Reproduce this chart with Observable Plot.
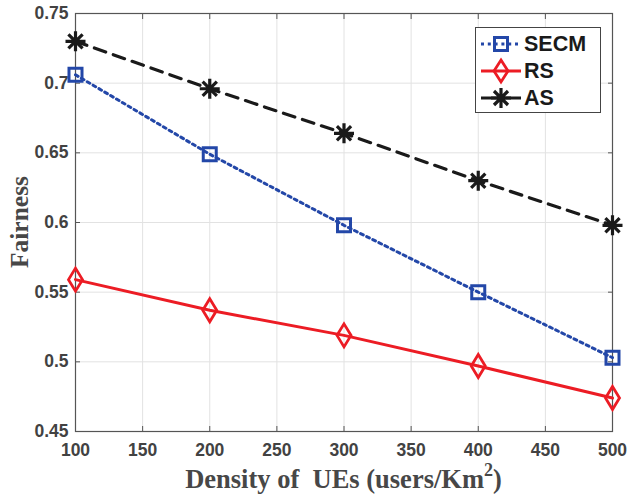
<!DOCTYPE html>
<html><head><meta charset="utf-8">
<script src="https://cdn.jsdelivr.net/npm/d3@7"></script>
<script src="https://cdn.jsdelivr.net/npm/@observablehq/plot@0.6"></script>
<style>
body{margin:0;background:#fff}
#wrap{position:relative;width:627px;height:497px;font-family:"Liberation Sans",Arial,sans-serif}
#xlabel{position:absolute;left:0;width:627px;top:466px;line-height:26px;text-align:center;padding-left:60px;box-sizing:border-box;font-family:"Liberation Serif","Times New Roman",serif;font-weight:bold;font-size:26.5px;color:#474747;white-space:pre}
#xlabel sup{font-size:18px;line-height:0;position:relative;top:-2px}
#ylabel{position:absolute;left:19px;top:222px;line-height:25px;transform:translate(-50%,-50%) rotate(-90deg);font-family:"Liberation Serif","Times New Roman",serif;font-weight:bold;font-size:25.5px;color:#474747;white-space:nowrap}
#legend{position:absolute;left:475px;top:27px;width:126px;height:86px;border:1px solid #444;background:#fff;box-sizing:border-box}
.row{position:absolute;left:0;height:28px;display:flex;align-items:center}
.row svg{margin-left:5px}
.row span{font-weight:bold;font-size:21.5px;color:#1a1a1a;margin-left:3px}
</style>
</head><body><div id="wrap"></div>
<script>
const density = [100, 200, 300, 400, 500];
const secm = [0.706, 0.649, 0.598, 0.550, 0.503];
const rs = [0.559, 0.537, 0.519, 0.497, 0.474];
const as = [0.730, 0.696, 0.664, 0.630, 0.598];
const xTicks = [100, 150, 200, 250, 300, 350, 400, 450, 500];
const yTicks = [0.45, 0.5, 0.55, 0.6, 0.65, 0.7, 0.75];
const yTickLabels = ["0.45", "0.5", "0.55", "0.6", "0.65", "0.7", "0.75"];
const seriesNames = ["SECM", "RS", "AS"];

const BLUE = "#2347a8", RED = "#ec1c24", BLACK = "#1a1a1a";

const sq = {draw(c) { const h = 6.5; c.moveTo(-h, -h); c.lineTo(h, -h); c.lineTo(h, h); c.lineTo(-h, h); c.closePath(); }};
const dia = {draw(c) { const w = 7, h = 11.5; c.moveTo(0, -h); c.lineTo(w, 0); c.lineTo(0, h); c.lineTo(-w, 0); c.closePath(); }};
const ast = {draw(c) { const r = 10, d = 7.1; c.moveTo(-r, 0); c.lineTo(r, 0); c.moveTo(0, -r); c.lineTo(0, r); c.moveTo(-d, -d); c.lineTo(d, d); c.moveTo(-d, d); c.lineTo(d, -d); }};

const toRows = (vals) => density.map((x, i) => ({x, y: vals[i]}));
const dSecm = toRows(secm), dRs = toRows(rs), dAs = toRows(as);

const tickFont = {fontSize: 17.5, fontWeight: "bold", fill: "#424242"};

const chart = Plot.plot({
  width: 627, height: 497,
  marginLeft: 75, marginRight: 15, marginTop: 13, marginBottom: 66,
  style: {fontFamily: "'Liberation Sans', Arial, sans-serif", background: "#fff", overflow: "visible"},
  x: {domain: [100, 500]},
  y: {domain: [0.45, 0.75]},
  marks: [
    Plot.gridX(xTicks, {stroke: "#e2e2e2", strokeOpacity: 1}),
    Plot.gridY(yTicks, {stroke: "#e2e2e2", strokeOpacity: 1}),
    Plot.frame({stroke: "#555", strokeWidth: 1.2}),
    Plot.axisX(xTicks, {anchor: "bottom", tickSize: -5, tickPadding: 17, stroke: "#555", label: null, ...tickFont}),
    Plot.axisX(xTicks, {anchor: "top", tickSize: -5, stroke: "#555", tickFormat: () => "", label: null}),
    Plot.axisY(yTicks, {anchor: "left", tickSize: -5, tickPadding: 12, stroke: "#555", label: null, tickFormat: (d) => yTickLabels[yTicks.indexOf(d)], ...tickFont}),
    Plot.axisY(yTicks, {anchor: "right", tickSize: -5, stroke: "#555", tickFormat: () => "", label: null}),
    Plot.line(dAs, {x: "x", y: "y", stroke: BLACK, strokeWidth: 3.2, strokeDasharray: "12,8"}),
    Plot.line(dSecm, {x: "x", y: "y", stroke: BLUE, strokeWidth: 3, strokeDasharray: "3,3.8"}),
    Plot.line(dRs, {x: "x", y: "y", stroke: RED, strokeWidth: 3}),
    Plot.dot(dAs, {x: "x", y: "y", symbol: ast, r: 10, stroke: BLACK, strokeWidth: 3.2, fill: "none"}),
    Plot.dot(dSecm, {x: "x", y: "y", symbol: sq, r: 7, stroke: BLUE, strokeWidth: 3, fill: "none"}),
    Plot.dot(dRs, {x: "x", y: "y", symbol: dia, r: 8, stroke: RED, strokeWidth: 2.8, fill: "none"})
  ]
});
const wrap = document.getElementById("wrap");
wrap.appendChild(chart);

const xl = document.createElement("div");
xl.id = "xlabel";
xl.innerHTML = "Density of  UEs (users/Km<sup>2</sup>)";
wrap.appendChild(xl);
const yl = document.createElement("div");
yl.id = "ylabel";
yl.textContent = "Fairness";
wrap.appendChild(yl);

// legend
const leg = document.createElement("div");
leg.id = "legend";
const samples = [
  `<line x1="0" y1="14" x2="40" y2="14" stroke="${BLUE}" stroke-width="3" stroke-dasharray="3,3.8"/><rect x="13.5" y="7.5" width="13" height="13" fill="none" stroke="${BLUE}" stroke-width="3"/>`,
  `<line x1="0" y1="14" x2="40" y2="14" stroke="${RED}" stroke-width="3"/><path d="M20,3L27,14L20,25L13,14Z" fill="none" stroke="${RED}" stroke-width="2.8"/>`,
  `<line x1="0" y1="14" x2="40" y2="14" stroke="${BLACK}" stroke-width="3.2"/><path d="M10,14H30M20,4V24M13,7L27,21M13,21L27,7" fill="none" stroke="${BLACK}" stroke-width="3.2"/>`
];
seriesNames.forEach((n, i) => {
  const r = document.createElement("div");
  r.className = "row";
  r.style.top = (2 + i * 27) + "px";
  r.innerHTML = `<svg width="40" height="28">${samples[i]}</svg><span>${n}</span>`;
  leg.appendChild(r);
});
wrap.appendChild(leg);
</script>
</body></html>
